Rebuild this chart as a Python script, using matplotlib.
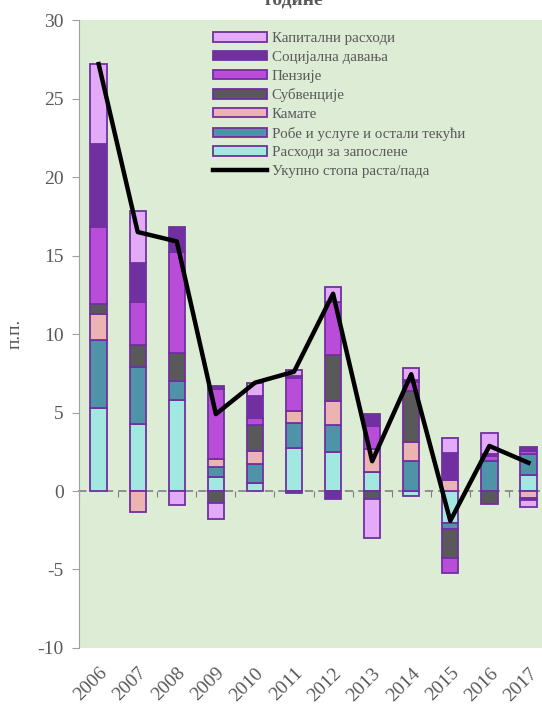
import numpy as np
import matplotlib
matplotlib.use("Agg")
import matplotlib.pyplot as plt
from matplotlib.patches import Patch
from matplotlib.lines import Line2D

years = ["2006", "2007", "2008", "2009", "2010", "2011",
         "2012", "2013", "2014", "2015", "2016", "2017"]

# доприноси по категоријама (п.п.), редослед слагања одоздо
zaposlene = [5.27, 4.29, 5.78, 0.89, 0.49, 2.76, 2.48, 1.21, -0.30, -2.02, 0.00, 1.00]
robe = [4.35, 3.63, 1.22, 0.66, 1.23, 1.55, 1.70, 0.00, 1.91, -0.38, 1.91, 1.34]
kamate = [1.68, -1.32, 0.00, 0.47, 0.83, 0.79, 1.55, 1.45, 1.21, 0.70, 0.00, -0.47]
subvencije = [0.63, 1.36, 1.77, -0.74, 1.65, -0.13, 2.93, -0.49, 3.25, -1.85, -0.81, -0.08]
penzije = [4.90, 2.78, 6.47, 4.46, 0.47, 2.12, 3.40, 1.48, 0.59, -0.99, 0.32, 0.21]
socijalna = [5.27, 2.48, 1.59, 0.21, 1.38, 0.10, -0.53, 0.75, 0.10, 1.70, 0.10, 0.25]
kapitalni = [5.08, 3.29, -0.89, -1.04, 0.85, 0.42, 0.95, -2.48, 0.75, 0.96, 1.38, -0.45]
ukupno = [27.2, 16.5, 15.9, 4.9, 6.9, 7.6, 12.57, 1.9, 7.44, -1.9, 2.87, 1.8]

series = [
    ("Расходи за запослене", zaposlene, "#a3e8e0"),
    ("Робе и услуге и остали текући", robe, "#4f93a8"),
    ("Камате", kamate, "#ecb3b3"),
    ("Субвенције", subvencije, "#595959"),
    ("Пензије", penzije, "#b94cd9"),
    ("Социјална давања", socijalna, "#7030a0"),
    ("Капитални расходи", kapitalni, "#e3aaf8"),
]

font = "Liberation Serif"
grey = "#595959"
edge = "#7030a0"

fig = plt.figure(figsize=(5.42, 7.07), dpi=100)
ax = fig.add_axes([0.146, 0.0835, 0.865, 0.888])
ax.set_facecolor("#ddecd4")

x = np.arange(len(years))
pos = np.zeros(len(years))
neg = np.zeros(len(years))
for name, vals, col in series:
    v = np.array(vals)
    bottom = np.where(v >= 0, pos, neg)
    ax.bar(x, v, 0.42, bottom=bottom, color=col, edgecolor=edge, linewidth=1.3, zorder=3)
    pos = pos + np.where(v > 0, v, 0)
    neg = neg + np.where(v < 0, v, 0)

ax.plot(x, ukupno, color="black", linewidth=3.2, zorder=4)

ax.set_xlim(-0.5, len(years) - 0.5)
ax.set_ylim(-10, 30)
ax.set_yticks(range(-10, 31, 5))
ax.set_yticklabels([str(t) for t in range(-10, 31, 5)], fontsize=14, color=grey, family=font)
ax.tick_params(axis="y", length=5, color="#a0a0a0", pad=6)

ax.set_xticks(x)
ax.set_xticklabels(years, rotation=45, ha="right", rotation_mode="anchor",
                   fontsize=14, color=grey, family=font)
ax.tick_params(axis="x", length=0, pad=12)

for s in ["top", "right", "bottom"]:
    ax.spines[s].set_visible(False)
ax.spines["left"].set_color("#a0a0a0")

# оса на нули, испрекидана
sec = ax.secondary_xaxis(0.25)
sec.set_xticks(np.arange(-0.5, len(years), 1))
sec.set_xticklabels([])
sec.tick_params(length=4, color="#7f7f7f", direction="out")
sec.spines["bottom"].set_linestyle((0, (4, 4)))
sec.spines["bottom"].set_color("#7f7f7f")
sec.spines["bottom"].set_linewidth(1.2)

ax.set_ylabel("п.п.", fontsize=14, color=grey, family=font, labelpad=10)

handles = [Patch(facecolor=col, edgecolor=edge, linewidth=1.3, label=name)
           for name, vals, col in reversed(series)]
handles.append(Line2D([0], [0], color="black", linewidth=3.2, label="Укупно стопа раста/пада"))
leg = ax.legend(handles=handles, loc="upper left", bbox_to_anchor=(207 / 542, 1 - 26 / 707),
                bbox_transform=fig.transFigure, frameon=False, prop={"family": font, "size": 10.8},
                handlelength=3.6, handleheight=0.6, labelspacing=0.38, handletextpad=0.3,
                borderaxespad=0)
for t in leg.get_texts():
    t.set_color(grey)

fig.text(0.543, 1 - 5 / 707, "године", ha="center", va="baseline", fontsize=14,
         color=grey, family=font, weight="bold")

fig.savefig("out.png", dpi=100)
